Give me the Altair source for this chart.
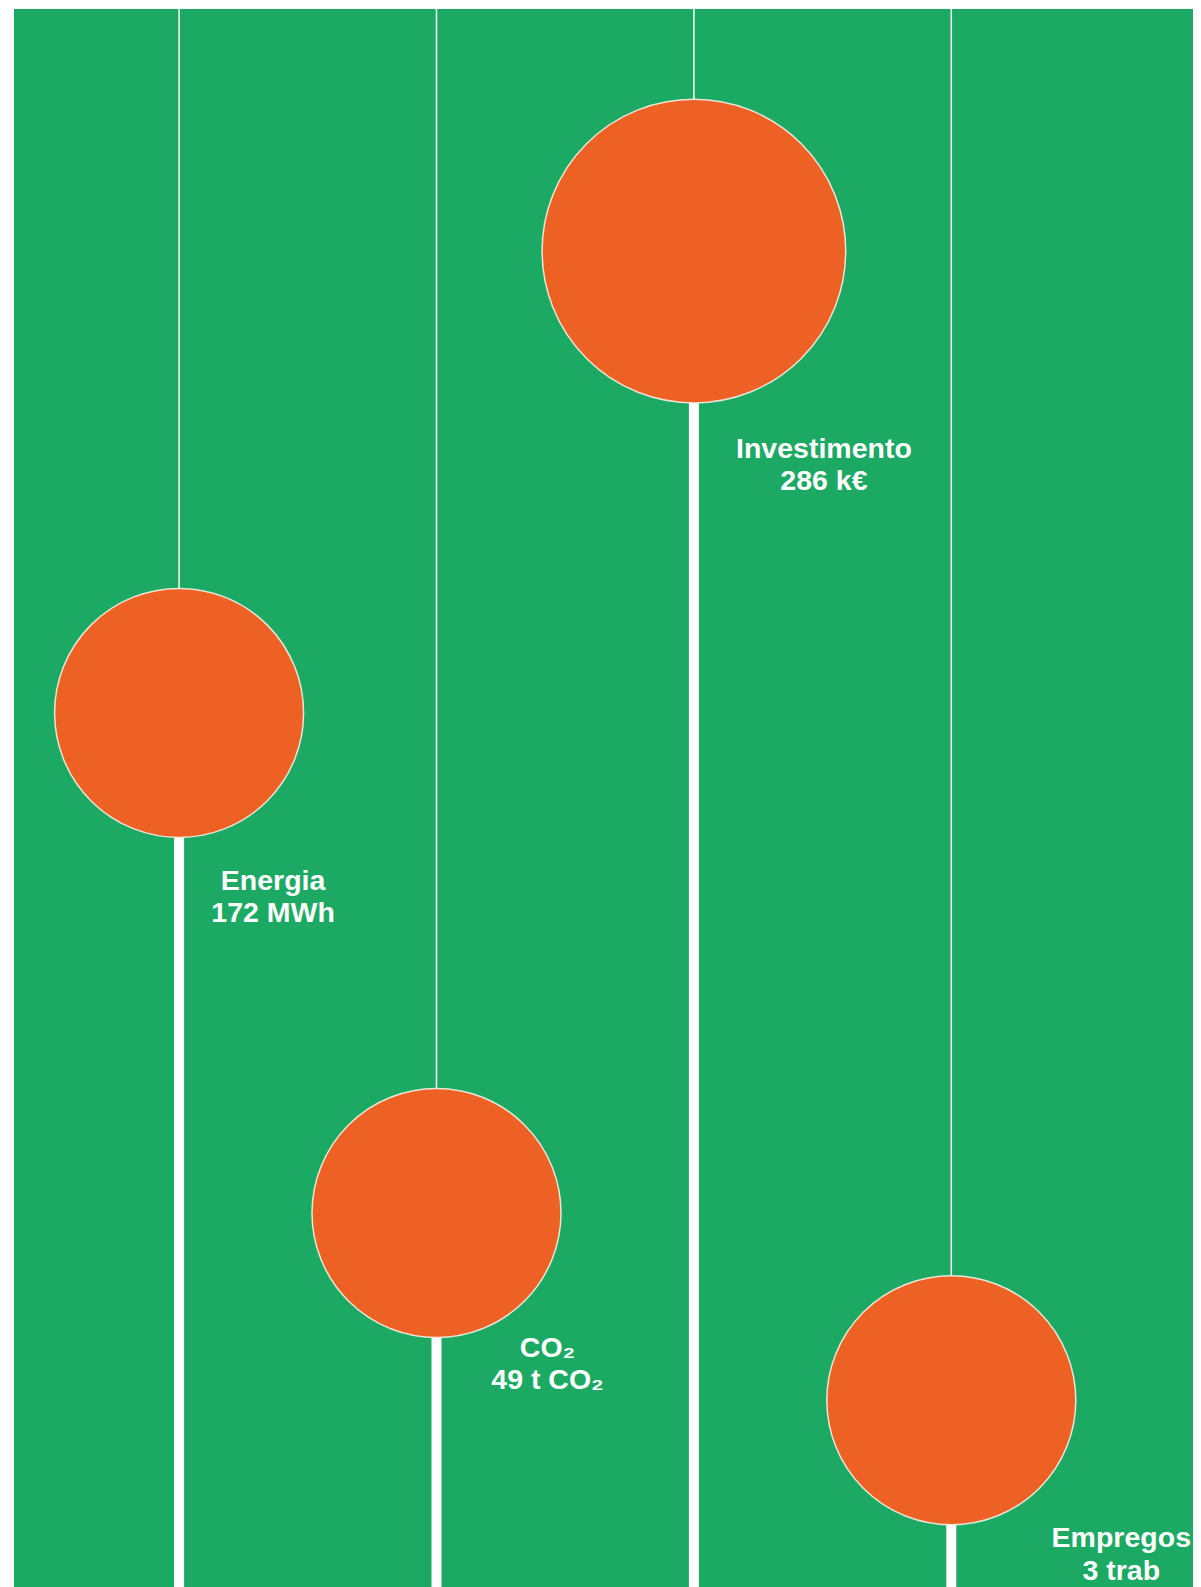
import altair as alt
import pandas as pd

# ---- data ----
categories = ["Energia", "CO2", "Investimento", "Empregos"]
values_text = ["172 MWh", "49 t CO₂", "286 k€", "3 trab"]
titles = ["Energia", "CO₂", "Investimento", "Empregos"]
order = [1, 2, 3, 4]
levels = [55.42, 23.75, 84.67, 11.89]      # vertical position of each bubble (0-100)
highlight = [False, False, True, False]    # larger bubble

df = pd.DataFrame({
    "cat": categories,
    "title": titles,
    "value": values_text,
    "idx": order,
    "level": levels,
    "big": highlight,
})
df["label"] = df["title"] + "\n" + df["value"]

# ---- layout / style ----
W, H = 1179, 1579
GREEN = "#1BA963"
ORANGE = "#EE6124"
label_offsets = {
    "Energia": (94, 168),
    "CO2": (111, 135),
    "Investimento": (130, 198),
    "Empregos": (170, 138),
}

x = alt.X("idx:Q", scale=alt.Scale(domain=[0.3586, 4.939], nice=False, zero=False), axis=None)
y = alt.Y("level:Q", scale=alt.Scale(domain=[0, 100], nice=False), axis=None)

base = alt.Chart(df)

thin = base.mark_rule(color="white", strokeWidth=1.5).encode(
    x=x, y=y, y2=alt.value(0)
)
thick = base.mark_rule(color="white", strokeWidth=10).encode(
    x=x, y=y, y2=alt.value(H)
)
circles = base.mark_point(
    shape="circle", filled=True, fill=ORANGE, stroke="#f4f0e6",
    strokeWidth=1.5, opacity=1, fillOpacity=1, strokeOpacity=0.9
).encode(
    x=x, y=y,
    size=alt.Size("big:N", scale=alt.Scale(domain=[False, True], range=[62000, 92200]), legend=None),
)

layers = [thin, thick, circles]
for cat, (dx, dy) in label_offsets.items():
    layers.append(
        base.transform_filter(alt.datum.cat == cat).mark_text(
            color="white", font="Liberation Sans", fontWeight="bold", fontSize=28.5,
            align="center", baseline="middle", lineBreak="\n", lineHeight=32.4,
            dx=dx, dy=dy
        ).encode(x=x, y=y, text="label:N")
    )

chart = alt.layer(*layers).properties(
    width=W, height=H,
    padding={"left": 6, "top": 0, "right": 0, "bottom": 0},
    background="white",
).configure_view(fill=GREEN, stroke=None)

chart.save("out.html", embed_options={"renderer": "svg", "actions": False})
